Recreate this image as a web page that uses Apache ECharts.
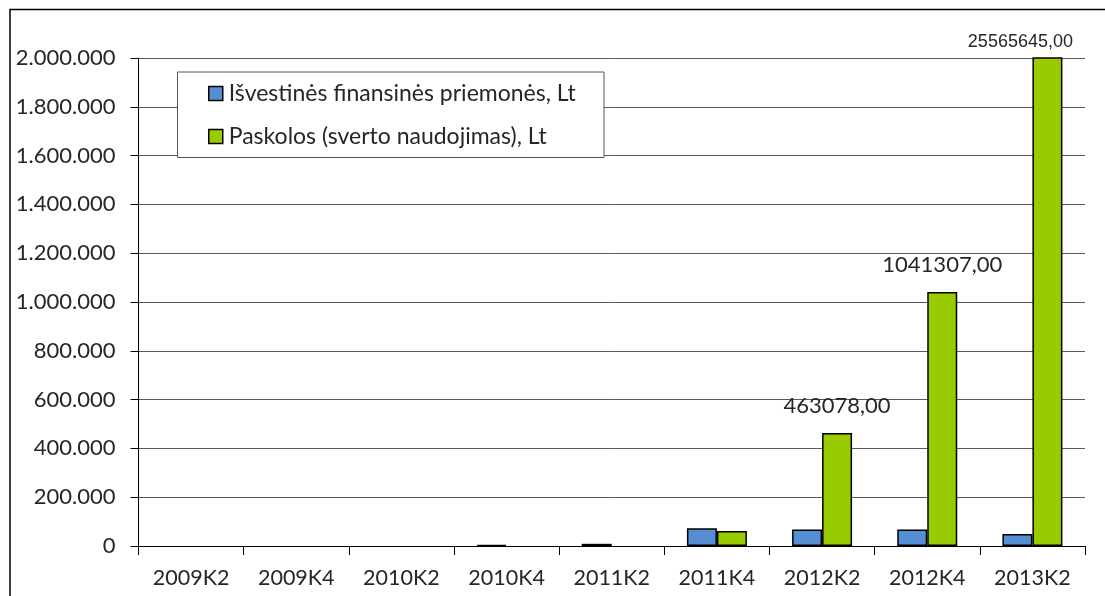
<!DOCTYPE html>
<html>
<head>
<meta charset="utf-8">
<script src="https://cdn.jsdelivr.net/npm/echarts@6/dist/echarts.min.js"></script>
<style>
  html, body { margin: 0; padding: 0; background: #fff; }
  #chart { width: 1105px; height: 596px; }
</style>
</head>
<body>
<div id="chart"></div>
<script>
// Quarterly categories
const categories = ['2009K2', '2009K4', '2010K2', '2010K4', '2011K2', '2011K4', '2012K2', '2012K4', '2013K2'];

// Derivative financial instruments, Lt
const derivatives = [null, null, null, 5000, 9000, 72500, 68000, 68000, 49000];

// Loans (leverage use), Lt
const loans = [null, null, null, null, null, 61500, 463078, 1041307, 25565645];

// Which loan values get a value label
const loanLabelled = [false, false, false, false, false, false, true, true, true];

const seriesNames = ['Išvestinės finansinės priemonės, Lt', 'Paskolos (sverto naudojimas), Lt'];

const yMax = 2000000;
const yStep = 200000;

const FONT = 'Lato';
const TEXT = '#262626';

function thousands(v) {
  return String(Math.round(v)).replace(/\B(?=(\d{3})+(?!\d))/g, '.');
}
function decimalComma(v) {
  return v.toFixed(2).replace('.', ',');
}

const loanData = loans.map((v, i) => {
  const item = { value: v };
  if (loanLabelled[i]) {
    const clipped = v > yMax;
    item.label = clipped
      ? { show: true, position: 'top', distance: 6, offset: [-27, 0],
          fontFamily: 'Liberation Sans', fontSize: 18, color: TEXT }
      : { show: true, position: 'top', distance: 16,
          fontFamily: FONT, fontSize: 22, color: TEXT };
  }
  return item;
});

const chart = echarts.init(document.getElementById('chart'), null, { renderer: 'canvas' });

chart.setOption({
  animation: false,
  backgroundColor: '#fff',
  grid: { left: 138.5, right: 20, top: 58, bottom: 50, containLabel: false },
  graphic: [
    {
      type: 'rect', z: -1, silent: true,
      shape: { x: 10, y: 9.5, width: 1200, height: 700 },
      style: { fill: null, stroke: '#000', lineWidth: 1.5 }
    },
    {
      type: 'rect', z: 10, silent: true,
      shape: { x: 177.5, y: 72, width: 426.5, height: 85.5 },
      style: { fill: '#fff', stroke: '#555', lineWidth: 1 }
    }
  ],
  legend: {
    orient: 'vertical',
    left: 178,
    top: 72,
    z: 11,
    padding: [10, 30, 10, 30],
    itemWidth: 14,
    itemHeight: 14,
    itemGap: 20,
    icon: 'rect',
    itemStyle: { borderColor: '#000', borderWidth: 1.5 },
    textStyle: { fontFamily: FONT, fontSize: 23, color: TEXT, lineHeight: 22, padding: [0, 0, 0, 1] },
    data: seriesNames
  },
  xAxis: {
    type: 'category',
    data: categories,
    boundaryGap: true,
    axisLine: { show: true, lineStyle: { color: '#000', width: 1 } },
    axisTick: { show: true, length: 9, alignWithLabel: false, lineStyle: { color: '#000' } },
    axisLabel: { fontFamily: FONT, fontSize: 21.5, color: TEXT, margin: 21, interval: 0 }
  },
  yAxis: {
    type: 'value',
    min: 0,
    max: yMax,
    interval: yStep,
    axisLine: { show: true, lineStyle: { color: '#000', width: 1 } },
    axisTick: { show: true, length: 8, lineStyle: { color: '#000' } },
    axisLabel: { fontFamily: FONT, fontSize: 22, color: TEXT, margin: 23, formatter: thousands },
    splitLine: { show: true, lineStyle: { color: '#595959', width: 1 } }
  },
  series: [
    {
      name: seriesNames[0],
      type: 'bar',
      data: derivatives,
      barWidth: 30,
      barGap: '0%',
      clip: true,
      itemStyle: { color: '#558ED5', borderColor: '#000', borderWidth: 1.5 }
    },
    {
      name: seriesNames[1],
      type: 'bar',
      data: loanData,
      barWidth: 30,
      barGap: '0%',
      clip: true,
      itemStyle: { color: '#99CC00', borderColor: '#000', borderWidth: 1.5 },
      label: { formatter: p => decimalComma(p.value) }
    }
  ]
});
</script>
</body>
</html>
